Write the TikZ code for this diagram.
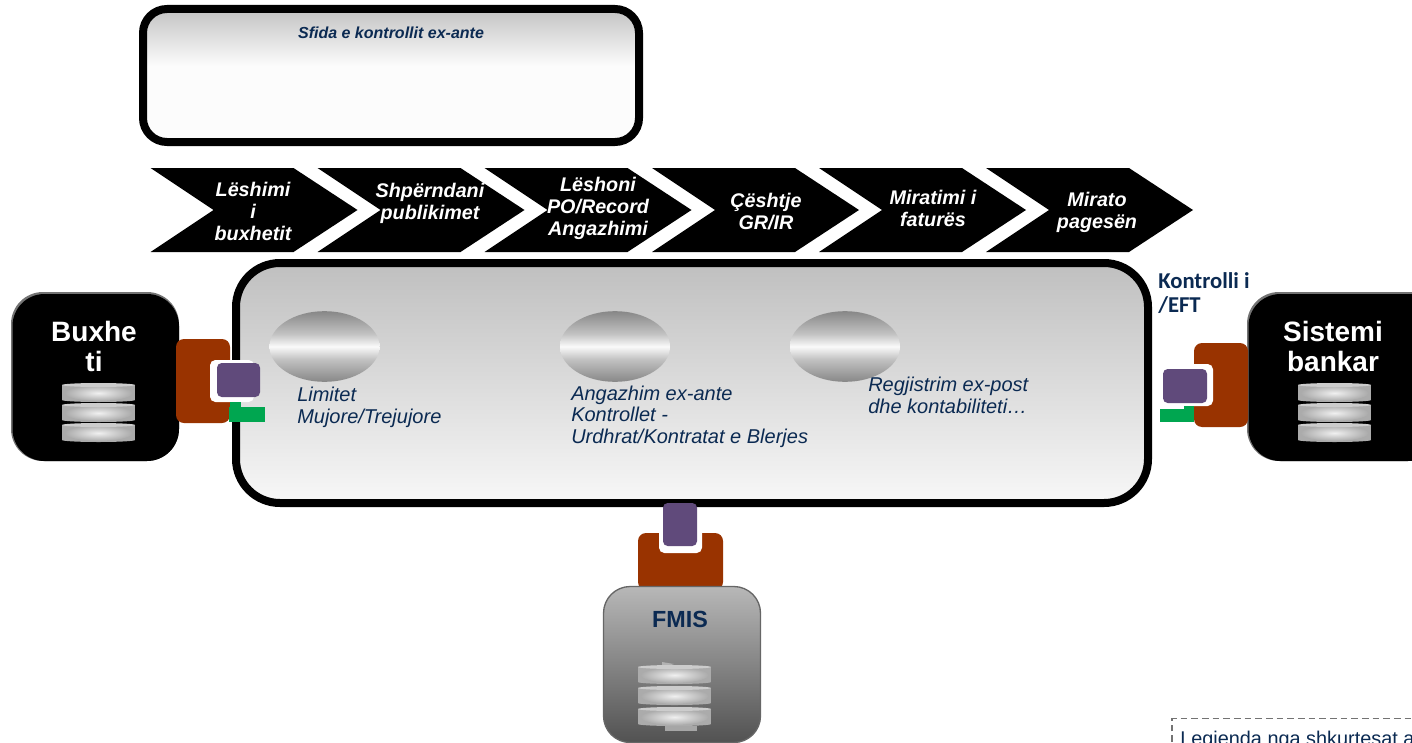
\documentclass[tikz,border=0pt]{standalone}
\usepackage{fontspec}
\setmainfont{Liberation Sans}
\newfontfamily\calib{Carlito}
\usetikzlibrary{shapes.geometric}
\definecolor{navy}{HTML}{0B2A52}
\definecolor{brownbox}{HTML}{993300}
\definecolor{plum}{HTML}{604A7B}
\definecolor{greenbar}{HTML}{00A650}
\pgfdeclareverticalshading{lensshade}{100bp}{
  color(0bp)=(black!47); color(25bp)=(black!47); color(41bp)=(black!24);
  color(50bp)=(black!2); color(59bp)=(black!24); color(75bp)=(black!47); color(100bp)=(black!47)}
\tikzset{
  frameline/.style={draw=black,line width=6pt},
  chevtext/.style={text=white,font=\fontsize{14.8}{16.5}\selectfont\bfseries\itshape,align=center,inner sep=0pt},
  notetext/.style={text=navy,font=\fontsize{15}{16.2}\selectfont\itshape,align=left,inner sep=0pt,anchor=west},
  systext/.style={text=white,font=\fontsize{21}{22.5}\selectfont\bfseries,align=center,inner sep=0pt},
  lens/.style={ellipse,minimum width=82.5pt,minimum height=53pt,inner sep=0pt,shading=lensshade},
  brownbox/.style={fill=brownbox,rounded corners=6pt},
  plumbox/.style={fill=plum,rounded corners=3.5pt},
  whitebox/.style={fill=white,rounded corners=4pt},
  greenbar/.style={fill=greenbar}
}
\newcommand{\dbdisc}[2]{%
  \fill[black!33] (#1,#2+2) rectangle (#1+73,#2+17);
  \fill[black!33] (#1+36.5,#2+17) ellipse[x radius=36.5,y radius=2];
  \shade[inner color=black!6,outer color=black!33] (#1+36.5,#2+10) ellipse[x radius=34,y radius=8];
  \fill[black!20] (#1+36.5,#2+2) ellipse[x radius=36.5,y radius=2];
}
\newcommand{\dbstack}[4]{\dbdisc{#1}{#2}\dbdisc{#1}{#3}\dbdisc{#1}{#4}}
\begin{document}
\begin{tikzpicture}[x=0.75pt,y=-0.75pt]
\useasboundingbox (0,0) rectangle (1412,742);
\begin{scope}
\clip (0,0) rectangle (1412,742);
% top box
\fill[black!1,rounded corners=18pt] (143,9) rectangle (639,142);
\begin{scope}
\clip[rounded corners=18pt] (143,9) rectangle (639,142);
\shade[top color=black!22,bottom color=black!1] (143,13) rectangle (639,66);
\end{scope}
\draw[frameline,rounded corners=18pt] (143,9) rectangle (639,142);
\node[text=navy,font=\fontsize{12}{14}\selectfont\bfseries\itshape,inner sep=0pt] (title) at (391,33) {Sfida e kontrollit ex-ante};
% chevrons
\foreach \a/\n in {150.5/1,317.5/2,484.5/3,652/4,819/5,986/6}{
  \fill[black] (\a,168) -- (\a+143,168) -- (\a+207,210) -- (\a+143,252) -- (\a,252) -- (\a+63,210) -- cycle;
}
\node[chevtext] (c1) at (253,211) {Lëshimi\\i\\buxhetit};
\node[chevtext] (c2) at (430,203) {Shpërndani\\publikimet};
\node[chevtext] (c3) at (598,208) {Lëshoni\\PO/Record\\Angazhimi};
\node[chevtext] (c4) at (766,211.5) {Çështje\\GR/IR};
\node[chevtext] (c5) at (933,208) {Miratimi i\\faturës};
\node[chevtext] (c6) at (1097,212) {Mirato\\pagesën};
% main frame
\draw[frameline,top color=black!25,bottom color=black!3,rounded corners=33pt] (236,263) rectangle (1148,503);
\node[lens] (l1) at (324.5,346.5) {};
\node[lens] (l2) at (615,346.5) {};
\node[lens] (l3) at (845,346.5) {};
\node[notetext] (t1) at (297,407.5) {Limitet\\Mujore/Trejujore};
\node[notetext] (t2) at (571,416.5) {Angazhim ex-ante\\Kontrollet -\\Urdhrat/Kontratat e Blerjes};
\node[notetext] (t3) at (868,395.5) {Regjistrim ex-post\\dhe kontabiliteti…};
\node[text=navy,font=\fontsize{17}{18}\selectfont\calib\bfseries,align=left,inner sep=0pt,anchor=west] (efttext) at (1158,293) {Kontrolli i\\/EFT};
% left system
\fill[black!55,rounded corners=24pt] (11,292) rectangle (179,461);
\fill[black,rounded corners=24pt] (12.5,294) rectangle (179,461);
\node[systext] (buxheti) at (94,346) {Buxhe\\ti};
\dbstack{62}{383}{403}{423}
\path[brownbox] (176,339) rectangle (230,423);
\path[whitebox] (210,360) rectangle (254,402);
\path[greenbar] (229,407) rectangle (265,422);
\path[greenbar] (230,402) rectangle (241,408);
\path[plumbox] (217,363) rectangle (260,397);
% right system
\fill[black!55,rounded corners=24pt] (1247,292) rectangle (1440,461);
\fill[black,rounded corners=24pt] (1248.5,294) rectangle (1440,461);
\node[systext] (bank) at (1333,346) {Sistemi\\bankar};
\dbstack{1298}{383}{403}{423}
\path[brownbox] (1194,343) rectangle (1248,427);
\path[whitebox] (1170,364) rectangle (1213,406);
\path[greenbar] (1160,409) rectangle (1194,422);
\path[greenbar] (1184,406) rectangle (1194,410);
\path[plumbox] (1163,369) rectangle (1207,403);
% bottom system
\path[brownbox] (638,533) rectangle (723,590);
\path[whitebox] (659,520) rectangle (702,553);
\path[plumbox] (663,503) rectangle (697,546);
\draw[black!60,line width=1pt,top color=black!28,bottom color=black!68,rounded corners=20pt] (603.5,586.5) rectangle (760.5,742.5);
\node[text=navy,font=\fontsize{17.5}{20}\selectfont\bfseries,inner sep=0pt] (fmis) at (680,619) {FMIS};
\fill[black!35] (665,726) rectangle (697,731);
\fill[black!30] (662,662) -- (674,664) -- (662,668) -- cycle;
\dbstack{638}{665}{686}{707}
% legend
\draw[black!55,dash pattern=on 5pt off 3pt,line width=0.9pt] (1172,742) -- (1172,718.5) -- (1420,718.5);
\node[text=navy,font=\fontsize{14.9}{16}\selectfont,inner sep=0pt,anchor=base west] (legend) at (1180,745) {Legjenda nga shkurtesat a};
\end{scope}
\end{tikzpicture}
\end{document}
